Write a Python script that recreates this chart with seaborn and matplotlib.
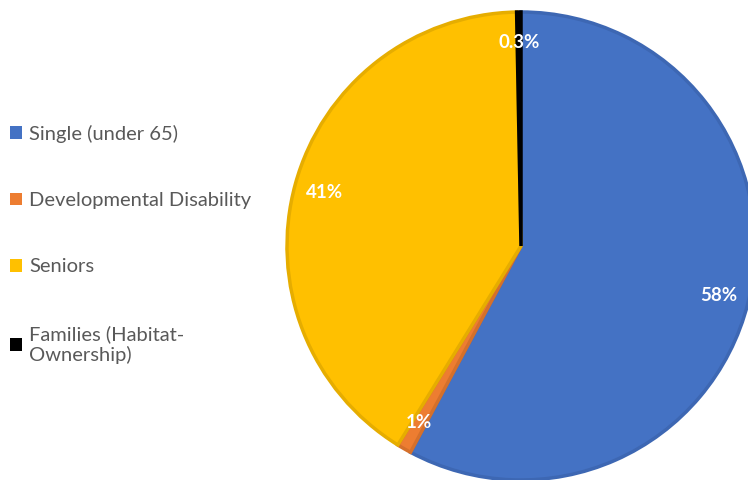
import matplotlib
matplotlib.use("Agg")
import matplotlib.pyplot as plt
import matplotlib.patches as mpatches
import seaborn as sns

# data
categories = ["Single (under 65)", "Developmental Disability", "Seniors", "Families (Habitat-\nOwnership)"]
shares = [58, 1, 41, 0.3]
colors = ["#4472C4", "#ED7D31", "#FFC000", "#000000"]
edge_colors = ["#3D67B3", "#D5702B", "#E6AD00", "#000000"]

sns.set_theme(style="white")
plt.rcParams['font.family'] = ['Lato', 'DejaVu Sans']

fig = plt.figure(figsize=(7.48, 4.8), dpi=100)
# pie axes: centre ~ (521, 246) px, radius ~234 px
ax = fig.add_axes([287/748, 0.0, 468/748, 468/480])

def fmt(p):
    return f"{p:.1f}%" if p < 0.5 else f"{p:.0f}%"

wedges, texts, autotexts = ax.pie(shares, colors=sns.color_palette(colors), startangle=90,
                                  counterclock=False, autopct=fmt, pctdistance=0.87,
                                  radius=1.0,
                                  wedgeprops=dict(linewidth=2.5))
for w, ec in zip(wedges, edge_colors):
    w.set_edgecolor(ec)
    w.set_clip_on(False)
for t in autotexts:
    t.set_color("white")
    t.set_fontweight("bold")
    t.set_fontsize(13.5)
ax.set_xlim(-1, 1)
ax.set_ylim(-1, 1)
ax.set_aspect("equal")
ax.axis("off")

handles = [mpatches.Patch(facecolor=c, edgecolor="none") for c in colors]
leg = fig.legend(handles, categories, loc="upper left", bbox_to_anchor=(0.003, 0.757),
                 frameon=False, fontsize=14.5, labelspacing=2.45, handlelength=0.6,
                 handleheight=0.6, handletextpad=0.35, borderaxespad=0)
for t in leg.get_texts():
    t.set_color("#595959")

fig.savefig("out.png", dpi=100)
